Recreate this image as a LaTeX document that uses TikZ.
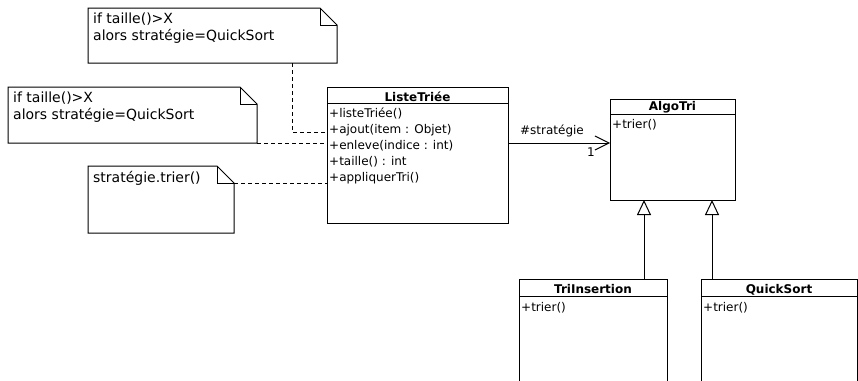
\documentclass[tikz,border=0pt]{standalone}
\usepackage{fontspec}
\setmainfont{DejaVu Sans}
\usetikzlibrary{arrows.meta}
\tikzset{
  clsbox/.style={draw, line width=1pt, inner sep=0pt, outer sep=0pt, anchor=north west, fill=white},
  notebox/.style={draw=none, inner sep=0pt, outer sep=0pt, anchor=north west},
  clstitle/.style={font=\bfseries\fontsize{12}{16}\selectfont, anchor=base, inner sep=0pt},
  opline/.style={font=\fontsize{12}{16}\selectfont, anchor=base west, inner sep=0pt},
  notetext/.style={font=\fontsize{14}{17}\selectfont, anchor=base west, inner sep=0pt},
  noteline/.style={line width=1pt, line join=miter},
  hdrline/.style={line width=1pt},
  notelink/.style={line width=1pt, dash pattern=on 4pt off 3pt},
  assoc/.style={line width=1pt, -{Straight Barb[length=14pt,width=14pt]}},
  inherit/.style={line width=1pt, -{Triangle[open,length=15pt,width=14pt,fill=white]}},
  lbl/.style={font=\fontsize{12}{16}\selectfont, inner sep=0pt}
}
\newcommand\drawnote[1]{%
  \draw[noteline] (#1.north west) -- ([xshift=-17pt]#1.north east) -- ([yshift=-17pt]#1.north east) -- (#1.south east) -- (#1.south west) -- cycle;
  \draw[noteline] ([xshift=-17pt]#1.north east) |- ([yshift=-17pt]#1.north east);}
\begin{document}
\begin{tikzpicture}[x=1pt,y=-1pt]
\path[use as bounding box] (0,0) rectangle (858,380);
\clip (0,0) rectangle (858,380);

% notes
\node[notebox, minimum width=249pt, minimum height=55pt] (n1) at (88,8) {};
\node[notebox, minimum width=249pt, minimum height=56pt] (n2) at (8,87) {};
\node[notebox, minimum width=146pt, minimum height=67pt] (n3) at (88,166) {};
\drawnote{n1}
\drawnote{n2}
\drawnote{n3}
\node[notetext] (n1a) at (93,23) {if taille()>X};
\node[notetext] (n1b) at (93,40) {alors stratégie=QuickSort};
\node[notetext] (n2a) at (13,102) {if taille()>X};
\node[notetext] (n2b) at (13,119) {alors stratégie=QuickSort};
\node[notetext] (n3a) at (93,182) {stratégie.trier()};

% ListeTriee
\node[clsbox, minimum width=181pt, minimum height=136pt] (liste) at (327,87) {};
\draw[hdrline] ([yshift=-16pt]liste.north west) -- ([yshift=-16pt]liste.north east);
\node[clstitle] (listeT) at (417.5,101) {ListeTriée};
\node[opline] (lo1) at (329,117) {+listeTriée()};
\node[opline] (lo2) at (329,133) {+ajout(item : Objet)};
\node[opline] (lo3) at (329,149) {+enleve(indice : int)};
\node[opline] (lo4) at (329,165) {+taille() : int};
\node[opline] (lo5) at (329,181) {+appliquerTri()};

% AlgoTri
\node[clsbox, minimum width=125pt, minimum height=101pt] (algo) at (610,99) {};
\draw[hdrline] ([yshift=-15pt]algo.north west) -- ([yshift=-15pt]algo.north east);
\node[clstitle] (algoT) at (672.5,110) {AlgoTri};
\node[opline] (ao1) at (612,128) {+trier()};

% TriInsertion
\node[clsbox, minimum width=148pt, minimum height=130pt] (trins) at (519,279) {};
\draw[hdrline] ([yshift=-17pt]trins.north west) -- ([yshift=-17pt]trins.north east);
\node[clstitle] (trinsT) at (593,293) {TriInsertion};
\node[opline] (to1) at (521,311) {+trier()};

% QuickSort
\node[clsbox, minimum width=156pt, minimum height=130pt] (qs) at (701,279) {};
\draw[hdrline] ([yshift=-17pt]qs.north west) -- ([yshift=-17pt]qs.north east);
\node[clstitle] (qsT) at (779,293) {QuickSort};
\node[opline] (qo1) at (703,311) {+trier()};

% note links
\draw[notelink] ([xshift=-45pt]n1.south east) |- ([yshift=-45pt]liste.north west);
\draw[notelink] (n2.south east) -- (n2.south east -| liste.west);
\draw[notelink] ([yshift=-17pt]n3.north east) -- ([yshift=-17pt]n3.north east -| liste.west);

% association
\draw[assoc] ([yshift=-56pt]liste.north east) -- ([yshift=-44pt]algo.north west);
\node[lbl, anchor=base] (assocL) at (552,134) {\#stratégie};
\node[lbl, anchor=base] (assocM) at (591,156) {1};

% inheritance
\draw[inherit] ([xshift=-23pt]trins.north east) -- ([xshift=34pt]algo.south west);
\draw[inherit] ([xshift=11pt]qs.north west) -- ([xshift=102pt]algo.south west);
\end{tikzpicture}
\end{document}
